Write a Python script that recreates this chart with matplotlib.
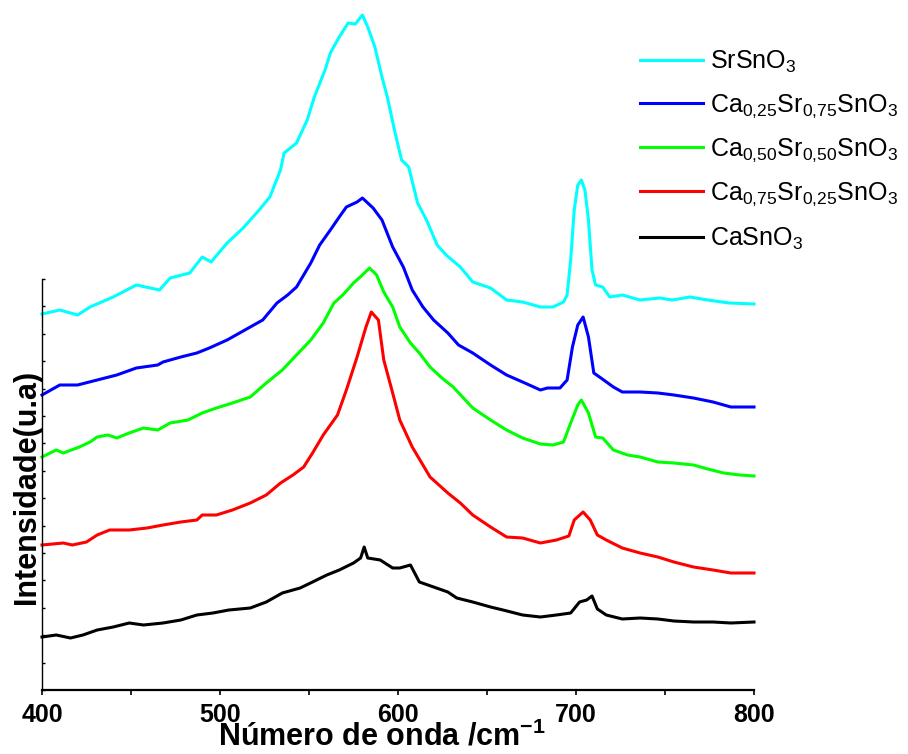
import matplotlib
matplotlib.use('Agg')
import matplotlib.pyplot as plt
from matplotlib.ticker import MultipleLocator

plt.rcParams['font.family'] = ['Liberation Sans', 'DejaVu Sans']
plt.rcParams['mathtext.default'] = 'regular'

# Raman spectra, intensity in arbitrary units
wn_sr = [400, 410, 420, 427, 440, 453, 466, 472, 483, 490, 495, 504, 513, 522, 528, 534,
         536, 543, 549, 553, 559, 562, 567, 572, 576, 580, 583, 587, 591, 594, 598, 602,
         606, 611, 616, 622, 627, 635, 642, 652, 661, 670, 680, 687, 693, 695, 697, 699,
         701, 703, 705, 707, 709, 711, 715, 719, 726, 736, 747, 754, 764, 774, 786, 800]
int_sr = [376, 380, 375, 383, 393, 405, 400, 412, 417, 433, 428, 447, 462, 480, 493, 520,
          537, 547, 570, 593, 620, 637, 653, 667, 666, 675, 663, 643, 613, 593, 560, 530,
          523, 487, 470, 445, 435, 423, 408, 402, 390, 388, 383, 383, 388, 395, 430, 480,
          505, 510, 500, 470, 420, 405, 403, 393, 395, 390, 392, 390, 393, 390, 387, 386]

wn_ca25 = [400, 410, 420, 431, 442, 453, 465, 468, 478, 487, 494, 504, 507, 517, 524, 532,
           538, 543, 551, 556, 562, 567, 571, 577, 580, 586, 591, 597, 603, 608, 614, 620,
           628, 634, 642, 652, 661, 670, 680, 684, 691, 695, 698, 701, 704, 707, 710, 714,
           721, 726, 736, 746, 755, 766, 777, 787, 800]
int_ca25 = [295, 305, 305, 310, 315, 322, 325, 328, 333, 337, 342, 350, 353, 363, 370, 387,
            395, 403, 427, 445, 460, 473, 483, 488, 492, 482, 470, 443, 423, 400, 383, 370,
            357, 345, 337, 325, 315, 308, 300, 302, 302, 310, 343, 365, 373, 353, 317, 312,
            303, 298, 298, 297, 295, 292, 288, 283, 283]

wn_ca50 = [400, 408, 412, 421, 427, 431, 437, 442, 449, 457, 465, 472, 482, 490, 498, 507,
           517, 526, 535, 543, 551, 558, 564, 569, 575, 580, 584, 588, 592, 597, 601, 607,
           612, 618, 624, 631, 642, 652, 661, 670, 680, 687, 693, 697, 701, 703, 707, 711,
           715, 721, 729, 736, 746, 755, 766, 774, 783, 792, 800]
int_ca50 = [233, 240, 237, 243, 248, 253, 255, 252, 257, 262, 260, 267, 270, 277, 282, 287,
            293, 307, 320, 335, 350, 367, 387, 395, 407, 415, 422, 415, 398, 383, 363, 347,
            337, 323, 313, 303, 282, 270, 260, 252, 246, 245, 248, 267, 285, 290, 277, 253,
            252, 240, 235, 233, 228, 227, 225, 221, 217, 215, 214]

wn_ca75 = [400, 412, 417, 425, 431, 438, 449, 459, 468, 478, 487, 490, 498, 507, 517, 526,
           534, 541, 547, 552, 558, 564, 566, 571, 577, 582, 585, 589, 592, 597, 601, 608,
           618, 628, 635, 642, 652, 661, 670, 680, 689, 696, 699, 704, 708, 712, 717, 726,
           736, 746, 755, 766, 777, 787, 800]
int_ca75 = [145, 147, 145, 148, 155, 160, 160, 162, 165, 168, 170, 175, 175, 180, 187, 195,
            207, 215, 223, 237, 255, 270, 275, 300, 333, 363, 378, 370, 330, 297, 270, 243,
            213, 197, 187, 175, 163, 153, 152, 147, 150, 154, 170, 178, 170, 155, 150, 142,
            137, 133, 128, 123, 120, 117, 117]

wn_ca = [400, 408, 416, 423, 431, 440, 449, 457, 468, 478, 487, 496, 505, 517, 526, 535,
         545, 552, 560, 567, 575, 579, 581, 583, 590, 597, 601, 607, 612, 620, 628, 633,
         642, 652, 659, 670, 680, 689, 697, 702, 706, 709, 712, 717, 726, 736, 746, 755,
         766, 777, 787, 800]
int_ca = [53, 55, 52, 55, 60, 63, 67, 65, 67, 70, 75, 77, 80, 82, 88, 97,
          102, 108, 115, 120, 127, 132, 143, 132, 130, 122, 122, 125, 108, 103, 98, 92,
          88, 83, 80, 75, 73, 75, 77, 88, 90, 94, 81, 75, 71, 72, 71, 69,
          68, 68, 67, 68]

labels = ['SrSnO$_3$',
          'Ca$_{0{,}25}$Sr$_{0{,}75}$SnO$_3$',
          'Ca$_{0{,}50}$Sr$_{0{,}50}$SnO$_3$',
          'Ca$_{0{,}75}$Sr$_{0{,}25}$SnO$_3$',
          'CaSnO$_3$']
colors = ['#00FFFF', '#0000FF', '#00FF00', '#FF0000', '#000000']
series = [(wn_sr, int_sr), (wn_ca25, int_ca25), (wn_ca50, int_ca50),
          (wn_ca75, int_ca75), (wn_ca, int_ca)]

fig = plt.figure(figsize=(9.08, 7.54), dpi=100)
ax = fig.add_axes([42 / 908, 64 / 754, 712 / 908, 411 / 754])

for (x, y), c, lab in zip(series, colors, labels):
    ax.plot(x, y, color=c, lw=2.2, label=lab, clip_on=False)

ax.set_xlim(400, 800)
ax.set_ylim(0, 411)
ax.xaxis.set_major_locator(MultipleLocator(100))
ax.xaxis.set_minor_locator(MultipleLocator(50))
ax.yaxis.set_major_locator(MultipleLocator(27.4))
ax.set_yticklabels([])
ax.tick_params(axis='x', which='both', direction='out', length=3.5, width=1.2, pad=6,
               labelsize=18)
ax.tick_params(axis='y', which='both', direction='in', length=2.5, width=1.0)
for lab in ax.get_xticklabels():
    lab.set_fontweight('bold')

ax.spines['top'].set_visible(False)
ax.spines['right'].set_visible(False)
ax.spines['bottom'].set_linewidth(1.6)
ax.spines['left'].set_linewidth(1.0)

fig.text(382 / 908, 9 / 754, 'Número de onda /cm$^{-1}$', ha='center', va='baseline',
         fontsize=22, fontweight='bold')
fig.text(27 / 908, 1 - 487 / 754, 'Intensidade(u.a)', ha='center', va='center',
         rotation=90, fontsize=22, fontweight='bold')

ax.legend(loc='upper left', bbox_to_anchor=(640 / 908, 1 - 49 / 754),
          bbox_transform=fig.transFigure, frameon=False, fontsize=18,
          handlelength=2.5, handletextpad=0.3, labelspacing=0.68,
          borderpad=0, borderaxespad=0)

fig.savefig('out.png', dpi=100)
